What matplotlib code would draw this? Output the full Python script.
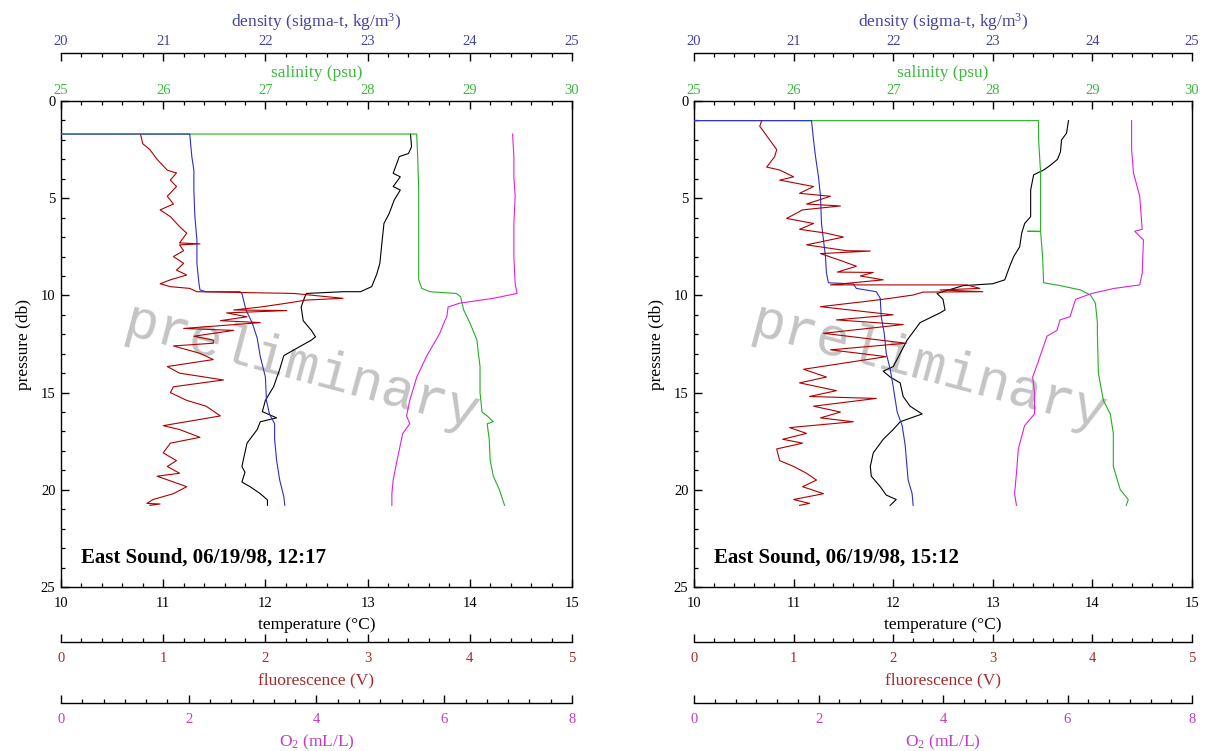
import matplotlib
matplotlib.use("Agg")
import matplotlib.pyplot as plt
from matplotlib.ticker import MultipleLocator

plt.rcParams['font.family'] = ['Liberation Serif', 'DejaVu Serif']
plt.rcParams['mathtext.fontset'] = 'custom'
plt.rcParams['mathtext.rm'] = 'Liberation Serif'
plt.rcParams['mathtext.it'] = 'Liberation Serif:italic'

# ---------------- data: East Sound 06/19/98 12:17 ----------------
t1_p = [1.70, 2.35, 2.70, 2.86, 3.72, 3.90, 4.40, 4.58, 5.10, 5.80, 6.30, 7.30, 8.35, 8.90,
        9.55, 9.81, 9.81, 9.90, 10.15, 10.60, 11.30, 11.80, 12.13, 12.30, 12.80, 13.10, 13.80,
        14.70, 15.40, 15.98, 16.30, 16.50, 16.90, 17.60, 18.80, 19.10, 19.60, 19.84, 20.20,
        20.52, 20.80]
t1_v = [13.42, 13.43, 13.40, 13.31, 13.25, 13.32, 13.25, 13.32, 13.26, 13.21, 13.16, 13.14,
        13.12, 13.09, 13.04, 12.93, 12.76, 12.40, 12.38, 12.35, 12.37, 12.45, 12.49, 12.45,
        12.28, 12.18, 12.14, 12.08, 12.00, 11.97, 12.11, 11.95, 11.92, 11.82, 11.77, 11.80,
        11.77, 11.85, 11.95, 12.02, 12.02]

s1_p = [1.70, 1.70, 2.86, 4.58, 6.30, 8.00, 9.20, 9.64, 9.81, 9.90, 10.07, 10.75, 11.40,
        12.30, 12.80, 13.66, 15.00, 16.00, 16.20, 16.50, 16.60, 17.40, 18.50, 19.30, 20.00,
        20.80]
s1_v = [0.00, 28.48, 28.49, 28.50, 28.50, 28.50, 28.50, 28.53, 28.61, 28.87, 28.91, 28.94,
        29.00, 29.07, 29.08, 29.10, 29.10, 29.12, 29.17, 29.23, 29.17, 29.19, 29.20, 29.23,
        29.29, 29.34]

d1_p = [1.70, 1.70, 2.86, 3.55, 4.58, 5.95, 7.15, 8.35, 9.40, 9.72, 9.81, 9.81, 9.90, 10.75,
        11.40, 12.20, 13.15, 14.20, 15.40, 16.10, 16.60, 17.40, 18.50, 19.50, 20.35, 20.80]
d1_v = [0.00, 21.26, 21.28, 21.30, 21.30, 21.31, 21.33, 21.33, 21.35, 21.36, 21.42, 21.75,
        21.77, 21.81, 21.87, 21.92, 21.95, 22.00, 22.01, 22.04, 22.09, 22.09, 22.11, 22.14,
        22.18, 22.19]

f1_p = [1.75, 2.20, 2.50, 3.00, 3.56, 3.70, 4.07, 4.40, 4.90, 5.30, 5.60, 5.95, 6.46, 6.80,
        7.30, 7.35, 7.40, 7.70, 8.00, 8.35, 8.70, 8.95, 9.20, 9.40, 9.55, 9.64, 9.81, 9.90,
        10.15, 10.24, 10.40, 10.60, 10.75, 10.78, 10.90, 11.10, 11.30, 11.40, 11.70, 11.80,
        12.10, 12.30, 12.46, 12.60, 12.98, 13.30, 13.66, 14.00, 14.35, 14.70, 15.00, 15.40,
        15.70, 16.20, 16.70, 16.90, 17.30, 17.60, 18.10, 18.50, 18.80, 19.15, 19.30, 19.84,
        20.20, 20.50, 20.70, 20.73, 20.80]
f1_v = [0.78, 0.80, 0.87, 0.94, 1.04, 1.13, 1.07, 1.13, 1.04, 1.10, 0.97, 1.07, 1.16, 1.23,
        1.16, 1.36, 1.16, 1.20, 1.10, 1.20, 1.13, 1.23, 1.07, 0.97, 1.07, 1.26, 1.33, 2.28,
        2.76, 2.40, 2.21, 1.95, 1.69, 2.21, 1.62, 1.82, 1.56, 1.95, 1.20, 1.69, 1.30, 1.49,
        1.49, 1.10, 1.36, 1.49, 1.04, 1.16, 1.59, 1.10, 1.07, 1.23, 1.42, 1.56, 1.00, 1.16,
        1.36, 1.07, 1.00, 1.13, 1.04, 1.16, 0.94, 1.23, 1.10, 0.90, 0.84, 0.97, 0.87]

o1_p = [1.70, 2.86, 3.90, 4.90, 6.30, 8.00, 9.40, 9.90, 10.15, 10.40, 10.60, 11.10, 11.30,
        11.95, 13.15, 14.20, 15.40, 16.20, 16.60, 17.10, 18.50, 19.50, 20.20, 20.80]
o1_v = [7.07, 7.09, 7.09, 7.11, 7.09, 7.09, 7.11, 7.14, 6.77, 6.24, 6.06, 6.04, 6.01, 5.93,
        5.72, 5.57, 5.46, 5.41, 5.46, 5.35, 5.26, 5.20, 5.18, 5.18]

# ---------------- data: East Sound 06/19/98 15:12 ----------------
t2_p = [1.01, 1.66, 2.00, 2.60, 3.00, 3.30, 3.55, 3.80, 4.58, 5.10, 5.95, 6.30, 6.80, 7.50,
        8.00, 8.50, 9.20, 9.40, 9.50, 9.90, 10.20, 10.75, 10.90, 11.40, 12.30, 12.98, 13.66,
        13.90, 14.20, 14.50, 15.20, 15.70, 16.10, 16.50, 16.90, 17.40, 18.10, 18.80, 19.30,
        19.84, 20.27, 20.50, 20.80]
t2_v = [13.76, 13.74, 13.69, 13.68, 13.65, 13.58, 13.51, 13.41, 13.38, 13.38, 13.38, 13.32,
        13.29, 13.27, 13.21, 13.17, 13.12, 13.00, 12.70, 12.44, 12.50, 12.52, 12.47, 12.27,
        12.14, 12.07, 12.00, 11.90, 11.97, 12.07, 12.10, 12.17, 12.29, 12.07, 12.00, 11.90,
        11.80, 11.77, 11.78, 11.87, 11.93, 12.03, 11.97]

s2_p = [1.01, 1.01, 2.00, 3.70, 6.30, 6.70, 6.70, 6.72, 8.00, 9.35, 9.50, 9.72, 9.98, 10.40,
        11.40, 11.95, 14.00, 15.40, 16.10, 17.10, 18.80, 20.00, 20.50, 20.80]
s2_v = [0.00, 28.46, 28.46, 28.48, 28.48, 28.48, 28.35, 28.48, 28.50, 28.51, 28.68, 28.88,
        28.98, 29.03, 29.05, 29.05, 29.06, 29.11, 29.18, 29.21, 29.21, 29.28, 29.36, 29.34]

d2_p = [1.01, 1.01, 2.00, 2.86, 3.90, 4.90, 6.30, 7.15, 8.00, 8.86, 9.35, 9.41, 9.64, 9.81,
        10.15, 11.10, 11.95, 12.98, 13.80, 14.70, 16.00, 16.70, 17.70, 19.50, 20.20, 20.80]
d2_v = [0.00, 21.18, 21.20, 21.22, 21.25, 21.27, 21.28, 21.30, 21.32, 21.33, 21.35, 21.60,
        21.63, 21.83, 21.87, 21.88, 21.91, 21.93, 21.97, 22.00, 22.04, 22.09, 22.12, 22.15,
        22.19, 22.20]

f2_p = [1.01, 1.30, 2.00, 2.50, 2.86, 3.40, 3.55, 3.90, 4.07, 4.40, 4.75, 4.90, 5.30, 5.40,
        5.60, 6.04, 6.30, 6.60, 6.80, 7.00, 7.40, 7.70, 7.72, 7.85, 8.20, 8.50, 8.80, 8.82,
        9.00, 9.20, 9.46, 9.46, 9.64, 9.72, 9.81, 9.83, 9.98, 10.15, 10.30, 10.58, 11.00,
        11.26, 11.50, 11.95, 12.46, 12.80, 13.15, 13.80, 14.20, 14.50, 14.90, 15.20, 15.30,
        15.70, 16.00, 16.30, 16.50, 16.80, 17.10, 17.40, 17.60, 17.90, 18.50, 18.80, 19.15,
        19.50, 19.84, 20.20, 20.50, 20.70, 20.80]
f2_v = [0.68, 0.66, 0.76, 0.83, 0.81, 0.73, 0.86, 1.00, 0.86, 1.20, 1.06, 1.37, 1.13, 1.47,
        1.09, 0.93, 1.20, 1.06, 1.33, 1.50, 1.13, 1.53, 1.77, 1.27, 1.47, 1.63, 1.44, 1.80,
        1.67, 1.90, 1.37, 2.74, 2.87, 2.47, 2.90, 2.30, 2.20, 1.97, 1.74, 1.27, 2.00, 1.43,
        2.10, 1.30, 2.13, 1.37, 1.93, 1.10, 1.33, 1.06, 1.43, 1.16, 1.83, 1.20, 1.47, 1.27,
        1.60, 0.96, 1.13, 0.89, 1.09, 0.83, 0.86, 1.00, 1.13, 1.23, 1.09, 1.30, 1.00, 1.16,
        1.06]

o2_p = [1.01, 2.50, 3.70, 4.90, 6.60, 6.70, 7.15, 8.86, 9.46, 9.64, 9.90, 10.20, 11.10,
        11.26, 11.80, 12.10, 13.50, 14.20, 15.00, 16.10, 16.70, 17.90, 19.15, 20.20, 20.80]
o2_v = [7.03, 7.03, 7.06, 7.16, 7.20, 7.08, 7.22, 7.20, 7.16, 6.75, 6.39, 6.13, 6.04, 5.88,
        5.83, 5.67, 5.52, 5.44, 5.47, 5.47, 5.31, 5.21, 5.18, 5.15, 5.18]

titles = ["East Sound, 06/19/98, 12:17", "East Sound, 06/19/98, 15:12"]

temp_ticks = [10, 11, 12, 13, 14, 15]
sal_ticks = [25, 26, 27, 28, 29, 30]
dens_ticks = [20, 21, 22, 23, 24, 25]
fluo_ticks = [0, 1, 2, 3, 4, 5]
oxy_ticks = [0, 2, 4, 6, 8]
pres_ticks = [0, 5, 10, 15, 20, 25]

# ---------------- styling ----------------
W, H = 1216, 751
C_DENS_T, C_DENS_L = '#4343a3', '#2e2ec8'
C_SAL_T, C_SAL_L = '#3cb83c', '#22b022'
C_FL_T, C_FL_L = '#a52a2a', '#b00000'
C_OX_T, C_OX_L = '#c23cc2', '#e020e0'
TICK_FS, LAB_FS = 10.5, 12.5
LW = 0.8

fig = plt.figure(figsize=(W / 100, H / 100), dpi=100)


def rect(x0, x1, y0, y1):
    return [x0 / W, 1 - y1 / H, (x1 - x0) / W, (y1 - y0) / H]


def style_x(a, ticks, minor, color, side, label, labelpad, pad):
    a.set_xlim(ticks[0], ticks[-1])
    a.set_xticks(ticks)
    a.xaxis.set_minor_locator(MultipleLocator(minor))
    if side == 'top':
        a.xaxis.set_ticks_position('top')
        a.xaxis.set_label_position('top')
    else:
        a.xaxis.set_ticks_position('bottom')
        a.xaxis.set_label_position('bottom')
    a.tick_params(axis='x', which='major', direction='in', length=6, width=1.0,
                  color='black', labelcolor=color, labelsize=TICK_FS, pad=pad)
    a.tick_params(axis='x', which='minor', direction='in', length=3, width=0.9,
                  color='black')
    a.set_xlabel(label, color=color, fontsize=LAB_FS, labelpad=labelpad)


def make_panel(r, data, title):
    (tp, tv), (sp, sv), (dp, dv), (fp, fv), (op, ov) = data
    ax = fig.add_axes(r)
    ax.set_ylim(pres_ticks[-1], pres_ticks[0])
    ax.set_yticks(pres_ticks)
    ax.yaxis.set_minor_locator(MultipleLocator(1))
    ax.tick_params(axis='y', which='major', direction='in', length=6, width=1.0,
                   labelsize=TICK_FS, pad=4)
    ax.tick_params(axis='y', which='minor', direction='in', length=3, width=0.9)
    ax.set_ylabel('pressure (db)', fontsize=LAB_FS, labelpad=6)
    for sp_ in ax.spines.values():
        sp_.set_linewidth(1.0)
    style_x(ax, temp_ticks, 0.2, 'black', 'bottom', 'temperature (°C)', 5.5, 7.0)

    ax_s = ax.twiny()
    ax_d = ax.twiny()
    ax_f = ax.twiny()
    ax_o = ax.twiny()
    for a in (ax_s, ax_d, ax_f, ax_o):
        for s in a.spines.values():
            s.set_visible(False)
    style_x(ax_s, sal_ticks, 0.2, C_SAL_T, 'top', 'salinity (psu)', 4.8, 3.0)
    style_x(ax_d, dens_ticks, 0.2, C_DENS_T, 'top', 'density (sigma-t, kg/m$^3$)', 6.3, 3.5)
    style_x(ax_f, fluo_ticks, 0.2, C_FL_T, 'bottom', 'fluorescence (V)', 5.5, 7.0)
    style_x(ax_o, oxy_ticks, 1 / 3, C_OX_T, 'bottom', 'O$_2$ (mL/L)', 5.0, 7.0)
    ax_d.spines['top'].set_visible(True)
    ax_d.spines['top'].set_position(('outward', 34.5))
    ax_d.spines['top'].set_linewidth(1.0)
    ax_f.spines['bottom'].set_visible(True)
    ax_f.spines['bottom'].set_position(('outward', 39.5))
    ax_f.spines['bottom'].set_linewidth(1.0)
    ax_o.spines['bottom'].set_visible(True)
    ax_o.spines['bottom'].set_position(('outward', 83.5))
    ax_o.spines['bottom'].set_linewidth(1.0)

    ax.text(0.47, 0.45, 'preliminary', transform=ax.transAxes, rotation=-15,
            rotation_mode='anchor', ha='center', va='center', fontsize=40,
            family='Liberation Mono', color='#c4c4c4', zorder=0)
    ax.plot(tv, tp, color='black', lw=LW, zorder=3)
    ax_s.plot(sv, sp, color=C_SAL_L, lw=LW)
    ax_d.plot(dv, dp, color=C_DENS_L, lw=LW)
    ax_f.plot(fv, fp, color=C_FL_L, lw=LW)
    ax_o.plot(ov, op, color=C_OX_L, lw=LW)
    ax.text(0.04, 0.061, title, transform=ax.transAxes, ha='left', va='center',
            fontsize=15, fontweight='bold', color='black')


make_panel(rect(61, 572, 101, 587),
           [(t1_p, t1_v), (s1_p, s1_v), (d1_p, d1_v), (f1_p, f1_v), (o1_p, o1_v)], titles[0])
make_panel(rect(694, 1192, 101, 587),
           [(t2_p, t2_v), (s2_p, s2_v), (d2_p, d2_v), (f2_p, f2_v), (o2_p, o2_v)], titles[1])

fig.savefig('out.png', dpi=100, facecolor='white')
